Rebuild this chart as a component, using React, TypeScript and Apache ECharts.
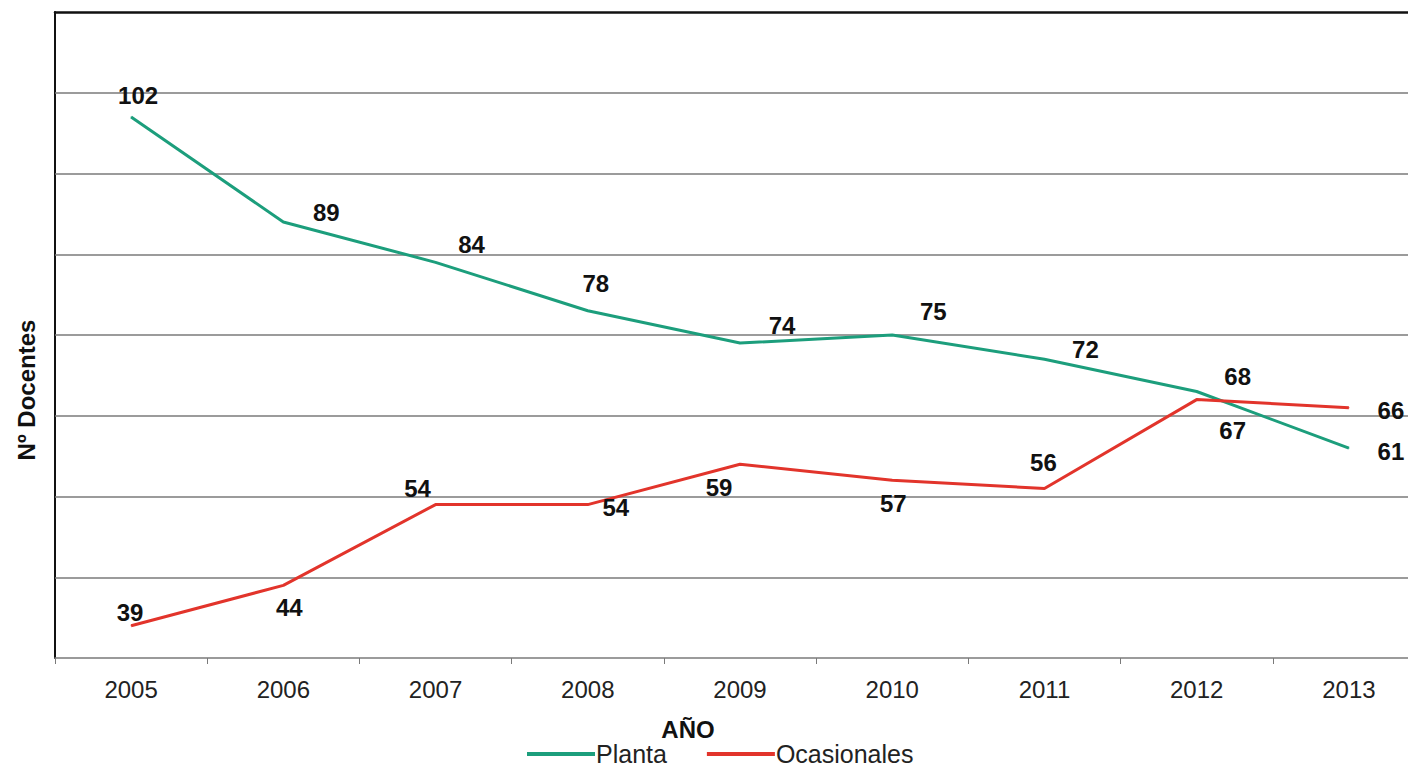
import React, { useEffect, useRef } from "react";
import * as echarts from "echarts";

const years = ["2005", "2006", "2007", "2008", "2009", "2010", "2011", "2012", "2013"];
const planta = [102, 89, 84, 78, 74, 75, 72, 68, 61];
const ocasionales = [39, 44, 54, 54, 59, 57, 56, 67, 66];
const gridValues = [45, 55, 65, 75, 85, 95, 105];
const yMin = 35;
const yMax = 115;

const plantaLabelOffsets = [
  [7, -21], [43, -9], [36, -18], [8, -27], [42, -18], [41, -24], [41, -10], [41, -15], [42, 3],
];
const ocasionalesLabelOffsets = [
  [-1, -13], [6, 22], [-18, -16], [28, 3], [-21, 23], [1, 23], [-1, -26], [36, 31], [42, 3],
];

const FONT = "'Liberation Sans', Arial, sans-serif";

function withLabels(values: number[], offsets: number[][]) {
  return values.map((v, i) => ({
    value: v,
    label: { offset: offsets[i] },
  }));
}

export default function App() {
  const ref = useRef<HTMLDivElement>(null);
  useEffect(() => {
    if (!ref.current) return;
    const chart = echarts.init(ref.current, undefined, { renderer: "svg" });
    const labelStyle = {
      show: true,
      position: "inside",
      align: "center",
      verticalAlign: "middle",
      fontFamily: FONT,
      fontWeight: "bold",
      fontSize: 24,
      color: "#111",
    };
    chart.setOption({
      animation: false,
      backgroundColor: "#ffffff",
      grid: { left: 55, right: 0, top: 12, bottom: 109, containLabel: false },
      legend: {
        left: 522,
        top: 736,
        itemWidth: 68,
        itemHeight: 4,
        itemGap: 40,
        icon: "rect",
        textStyle: { fontFamily: FONT, fontSize: 25, lineHeight: 26, color: "#222", padding: [0, 0, 0, -4] },
        data: ["Planta", "Ocasionales"],
      },
      xAxis: [
        {
          type: "category",
          data: years,
          boundaryGap: true,
          axisLine: { show: true, lineStyle: { color: "#7a7a7a", width: 1.5 } },
          axisTick: { show: true, length: 6, lineStyle: { color: "#7a7a7a" } },
          axisLabel: { fontFamily: FONT, fontSize: 24, color: "#222", margin: 19 },
          splitLine: { show: false },
        },
        {
          type: "category",
          data: years,
          position: "top",
          axisLine: { show: true, lineStyle: { color: "#111", width: 2.5 } },
          axisTick: { show: false },
          axisLabel: { show: false },
        },
      ],
      yAxis: {
        type: "value",
        min: yMin,
        max: yMax,
        axisLine: { show: true, lineStyle: { color: "#111", width: 2 } },
        axisTick: { show: false },
        axisLabel: { show: false },
        splitLine: { show: false },
      },
      graphic: [
        {
          type: "text",
          x: 26,
          y: 390,
          rotation: Math.PI / 2,
          style: {
            text: "Nº Docentes",
            font: `bold 24px ${FONT}`,
            fill: "#111",
            textAlign: "center",
            textVerticalAlign: "middle",
          },
        },
        {
          type: "text",
          x: 688,
          y: 729,
          style: {
            text: "AÑO",
            font: `bold 24px ${FONT}`,
            fill: "#111",
            textAlign: "center",
            textVerticalAlign: "middle",
          },
        },
      ],
      series: [
        {
          name: "Planta",
          type: "line",
          data: withLabels(planta, plantaLabelOffsets),
          symbol: "circle",
          symbolSize: 1,
          showSymbol: true,
          color: "#1c9e7c",
          lineStyle: { color: "#1c9e7c", width: 3 },
          label: labelStyle,
          z: 3,
          markLine: {
            silent: true,
            symbol: ["none", "none"],
            label: { show: false },
            lineStyle: { color: "#7a7a7a", width: 1.5, type: "solid" },
            data: gridValues.map((v) => ({ yAxis: v })),
            z: 1,
          },
        },
        {
          name: "Ocasionales",
          type: "line",
          data: withLabels(ocasionales, ocasionalesLabelOffsets),
          symbol: "circle",
          symbolSize: 1,
          showSymbol: true,
          color: "#e2342b",
          lineStyle: { color: "#e2342b", width: 3 },
          label: labelStyle,
          z: 4,
        },
      ],
    });
    return () => chart.dispose();
  }, []);
  return (
    <div style={{ position: "fixed", left: 0, top: 0, width: 1408, height: 767, overflow: "hidden", background: "#fff" }}>
      <div ref={ref} style={{ position: "absolute", left: 0, top: 0, width: 1425, height: 767 }} />
    </div>
  );
}
